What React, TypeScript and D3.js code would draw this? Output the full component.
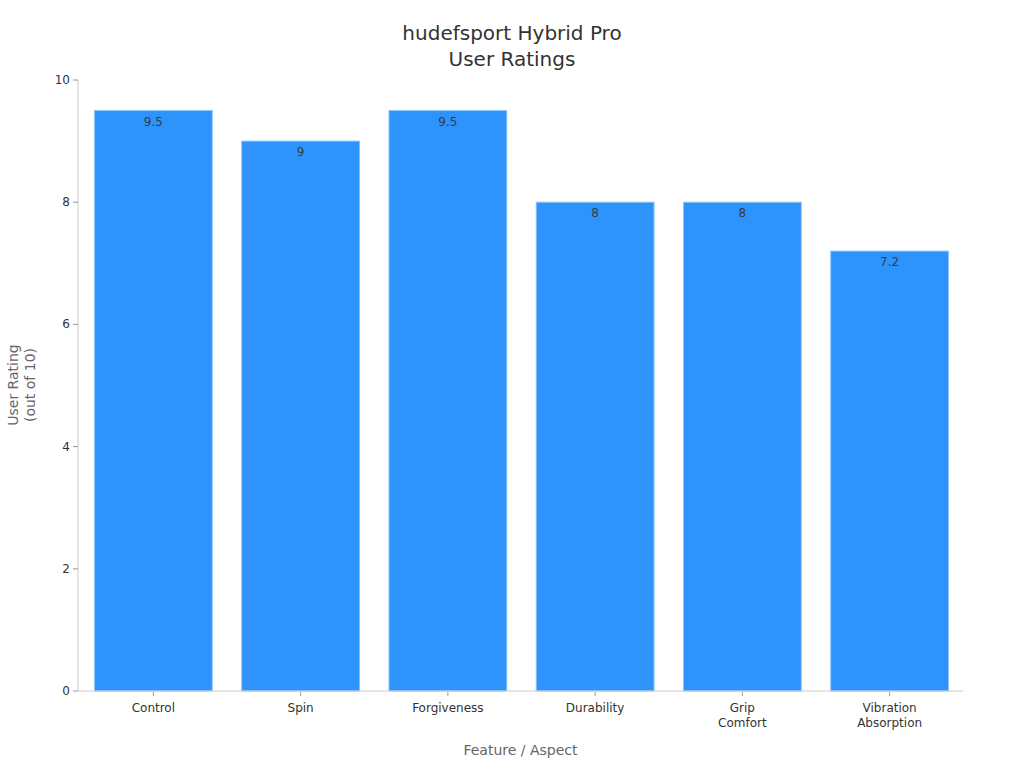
import React from "react";
import * as d3 from "d3";

const categories: string[][] = [
  ["Control"],
  ["Spin"],
  ["Forgiveness"],
  ["Durability"],
  ["Grip", "Comfort"],
  ["Vibration", "Absorption"],
];
const ratings: number[] = [9.5, 9, 9.5, 8, 8, 7.2];
const valueLabels: string[] = ["9.5", "9", "9.5", "8", "8", "7.2"];
const yTicks: number[] = [0, 2, 4, 6, 8, 10];
const titleLines: string[] = ["hudefsport Hybrid Pro", "User Ratings"];
const yTitleLines: string[] = ["User Rating", "(out of 10)"];
const xTitle = "Feature / Aspect";

const W = 1024;
const H = 768;
const M = { left: 78, right: 963, top: 80, bottom: 691 };
const FONT = "'DejaVu Sans', sans-serif";

export default function App() {
  const keys = categories.map((c) => c.join(" "));
  const x = d3
    .scaleBand<string>()
    .domain(keys)
    .range([M.left + 1, M.right + 1])
    .paddingInner(0.2)
    .paddingOuter(0.105);
  const y = d3.scaleLinear().domain([0, 10]).range([M.bottom, M.top]);
  const axisColor = "#cccccc";
  const cx = (M.left + M.right) / 2;

  return (
    <div style={{ position: "absolute", left: 0, top: 0 }}>
      <svg width={W} height={H} style={{ display: "block", background: "#fff" }} fontFamily={FONT}>
        {titleLines.map((t, i) => (
          <text key={t} x={512} y={40 + i * 26} textAnchor="middle" fontSize={20} fill="#333">
            {t}
          </text>
        ))}
        {/* bars */}
        {ratings.map((v, i) => (
          <g key={keys[i]}>
            <rect
              x={x(keys[i])!}
              y={y(v)}
              width={x.bandwidth()}
              height={y(0) - y(v)}
              fill="#2e93fa"
              stroke="#8cc4fc"
              strokeWidth={1}
            />
            <text
              x={x(keys[i])! + x.bandwidth() / 2}
              y={y(v) + 15}
              textAnchor="middle"
              fontSize={12}
              fill="#373d3f"
            >
              {valueLabels[i]}
            </text>
          </g>
        ))}
        {/* y axis */}
        <line x1={M.left} x2={M.left} y1={M.top} y2={M.bottom} stroke={axisColor} />
        {yTicks.map((t) => (
          <g key={t}>
            <line x1={M.left - 5} x2={M.left} y1={y(t)} y2={y(t)} stroke="#999" />
            <text x={M.left - 8} y={y(t) + 4} textAnchor="end" fontSize={12} fill="#333">
              {t}
            </text>
          </g>
        ))}
        {/* x axis */}
        <line x1={M.left} x2={M.right} y1={M.bottom} y2={M.bottom} stroke={axisColor} />
        {categories.map((c, i) => {
          const px = x(keys[i])! + x.bandwidth() / 2;
          return (
            <g key={keys[i]}>
              <line x1={px} x2={px} y1={M.bottom + 1} y2={M.bottom + 5} stroke="#999" />
              <text x={px} y={M.bottom + 21} textAnchor="middle" fontSize={12} fill="#333">
                {c.map((line, j) => (
                  <tspan key={line} x={px} dy={j === 0 ? 0 : 15}>
                    {line}
                  </tspan>
                ))}
              </text>
            </g>
          );
        })}
        <text x={cx} y={755} textAnchor="middle" fontSize={14} fill="#666">
          {xTitle}
        </text>
        {yTitleLines.map((t, i) => (
          <text
            key={t}
            transform={`translate(${18 + i * 17},${385}) rotate(-90)`}
            textAnchor="middle"
            fontSize={14}
            fill="#666"
          >
            {t}
          </text>
        ))}
      </svg>
    </div>
  );
}
